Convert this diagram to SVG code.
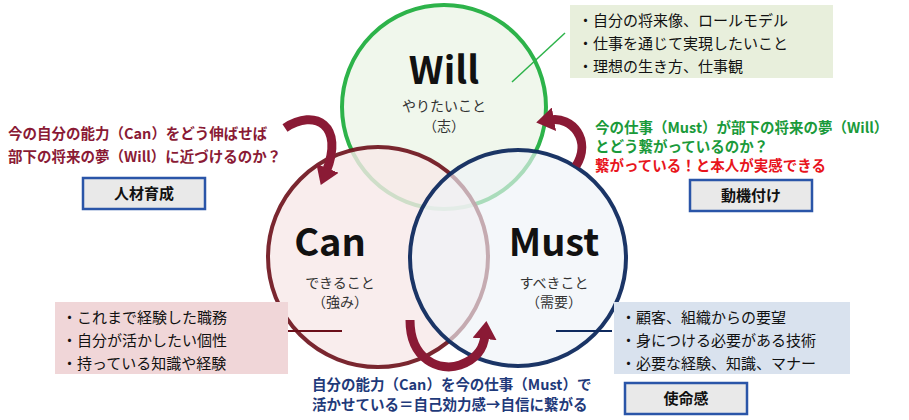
<svg xmlns="http://www.w3.org/2000/svg" width="909" height="420" viewBox="0 0 909 420">
<style>
text{font-family:"Noto Sans CJK JP","Noto Sans",sans-serif}
.b{font-weight:bold}
.box{fill:#e9e9e9;stroke:#2a55a8;stroke-width:2.5}
.arr{fill:none;stroke:#8a1a35;stroke-width:9}
</style>
<defs>
<marker id="ah" markerUnits="userSpaceOnUse" markerWidth="24" markerHeight="24" refX="4" refY="12" orient="auto"><path d="M0,0 L18,12 L0,24 Z" fill="#8a1a35"/></marker>
</defs>
<g id="will"><circle cx="444" cy="107" r="102" fill="#f0f7ec" stroke="#2db34a" stroke-width="4"/>
<text x="444" y="84" text-anchor="middle" font-size="38" class="b" fill="#111">Will</text>
<text x="444" y="111" text-anchor="middle" font-size="14" fill="#333">やりたいこと</text>
<text x="444" y="131" text-anchor="middle" font-size="14" fill="#333">（志）</text></g>
<g id="can"><circle cx="378" cy="257" r="110" fill="#f7e9e9" fill-opacity="0.8" stroke="#6b0f1a" stroke-opacity="0.9" stroke-width="4"/>
<text x="330" y="256" text-anchor="middle" font-size="38" class="b" fill="#111">Can</text>
<text x="340" y="288" text-anchor="middle" font-size="14" fill="#333">できること</text>
<text x="340" y="307" text-anchor="middle" font-size="14" fill="#333">（強み）</text></g>
<g id="must"><circle cx="518" cy="258" r="108" fill="#eef3f8" fill-opacity="0.65" stroke="#0f2a5e" stroke-opacity="0.95" stroke-width="4"/>
<text x="554" y="256" text-anchor="middle" font-size="38" class="b" fill="#111">Must</text>
<text x="554" y="288" text-anchor="middle" font-size="14" fill="#333">すべきこと</text>
<text x="554" y="307" text-anchor="middle" font-size="14" fill="#333">（需要）</text></g>
<g id="connectors">
<line x1="512" y1="82" x2="565" y2="33" stroke="#2db34a" stroke-width="1.5"/>
<line x1="288" y1="331" x2="342" y2="331" stroke="#6b0f1a" stroke-width="2"/>
<line x1="556" y1="331" x2="612" y2="331" stroke="#0f2a5e" stroke-width="2"/>
<path class="arr" d="M285,128 C315,108 345,125 326,172" marker-end="url(#ah)"/>
<path class="arr" d="M576,166 C592,140 572,116 550,120" marker-end="url(#ah)"/>
<path class="arr" d="M410,320 C410,360 440,372 460,365 C480,358 484,345 485,335" marker-end="url(#ah)"/>
</g>
<g id="will-note"><rect x="570" y="5" width="263" height="73" fill="#e8efdc"/>
<text font-size="15" fill="#111"><tspan x="578" y="26">・自分の将来像、ロールモデル</tspan><tspan x="578" y="49">・仕事を通じて実現したいこと</tspan><tspan x="578" y="72">・理想の生き方、仕事観</tspan></text></g>
<g id="can-note"><rect x="55" y="302" width="233" height="72" fill="#f0d6d8"/>
<text font-size="15" fill="#111"><tspan x="62" y="323">・これまで経験した職務</tspan><tspan x="62" y="346">・自分が活かしたい個性</tspan><tspan x="62" y="369">・持っている知識や経験</tspan></text></g>
<g id="must-note"><rect x="614" y="302" width="236" height="72" fill="#d9e2ee"/>
<text font-size="15" fill="#111"><tspan x="621" y="323">・顧客、組織からの要望</tspan><tspan x="621" y="346">・身につける必要がある技術</tspan><tspan x="621" y="369">・必要な経験、知識、マナー</tspan></text></g>
<g id="left-text"><text font-size="14.5" class="b" fill="#8a1a35"><tspan x="8" y="139">今の自分の能力（Can）をどう伸ばせば</tspan><tspan x="8" y="162">部下の将来の夢（Will）に近づけるのか？</tspan></text></g>
<g id="jinzai"><rect class="box" x="83" y="178" width="122" height="31"/><text x="144" y="199" text-anchor="middle" font-size="15" class="b" fill="#111">人材育成</text></g>
<g id="right-text"><text font-size="14.5" class="b"><tspan x="595" y="133" fill="#1a9a3a">今の仕事（Must）が部下の将来の夢（Will）</tspan><tspan x="595" y="152" fill="#1a9a3a">とどう繋がっているのか？</tspan><tspan x="595" y="171" fill="#e8141c">繋がっている！と本人が実感できる</tspan></text></g>
<g id="douki"><rect class="box" x="690" y="180" width="122" height="31"/><text x="751" y="201" text-anchor="middle" font-size="15" class="b" fill="#111">動機付け</text></g>
<g id="bottom-text"><text font-size="14.5" class="b" fill="#1f3a7a"><tspan x="312" y="390">自分の能力（Can）を今の仕事（Must）で</tspan><tspan x="312" y="410">活かせている＝自己効力感→自信に繋がる</tspan></text></g>
<g id="shimei"><rect class="box" x="625" y="383" width="122" height="31"/><text x="686" y="404" text-anchor="middle" font-size="15" class="b" fill="#111">使命感</text></g>
</svg>
